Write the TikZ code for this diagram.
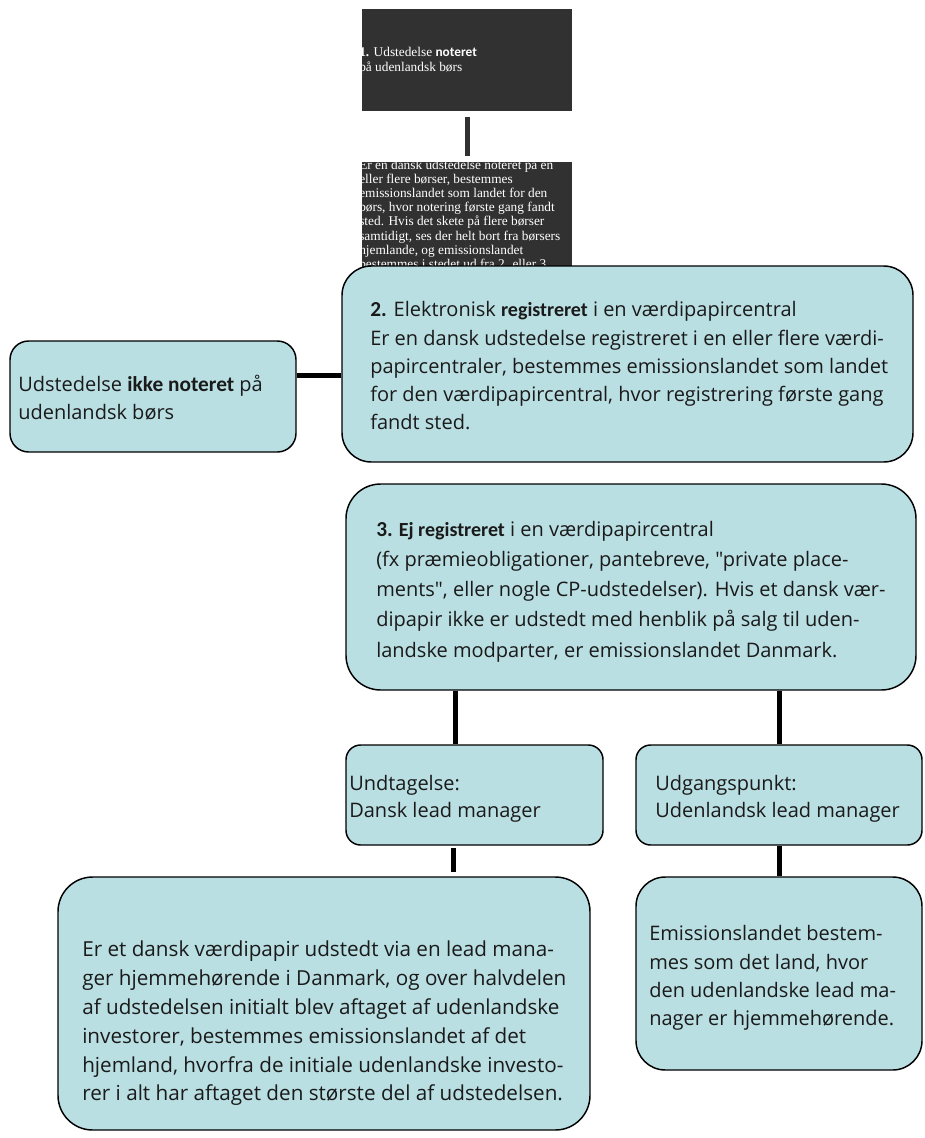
\documentclass[tikz,border=0pt]{standalone}
\usepackage{fontspec}
\setmainfont{Open Sans}[Ligatures=TeXOff]
\newfontfamily\calib{Carlito}
\newfontfamily\tnr{Liberation Serif}
\usetikzlibrary{backgrounds}
\definecolor{boxfill}{HTML}{BADFE3}
\definecolor{darkfill}{HTML}{313131}
\definecolor{ink}{HTML}{1A1A1A}
\tikzset{
  cbox/.style={draw=black, line width=1.1pt, fill=boxfill, inner sep=0pt},
  bsz/.style 2 args={minimum width=#1*0.75pt, minimum height=#2*0.75pt},
  dbox/.style={fill=darkfill, inner sep=0pt, draw=none},
  txt/.style={anchor=west, inner sep=0pt, align=left, text=ink},
  dtxt/.style={anchor=west, inner sep=0pt, align=left, text=white},
  conn/.style={line width=3.75pt, draw=black},
  dconn/.style={line width=3.75pt, draw=darkfill},
}
\begin{document}
\begin{tikzpicture}[x=0.75pt,y=-0.75pt]
\useasboundingbox (0,0) rectangle (924,1138);
% dark boxes
\node[dbox,bsz={210}{102}] (d1) at (467,60) {};
\node[dbox,bsz={210}{106}] (d2) at (467,215) {};
\begin{scope}
  \clip (d1.north west) rectangle (d1.south east);
  \node[dtxt, font=\tnr\fontsize{10pt}{11.25pt}\selectfont] (d1t) at (359,61) {{\bfseries 1.} Udstedelse {\calib\bfseries noteret}\\på udenlandsk børs};
\end{scope}
\begin{scope}
  \clip (d2.north west) rectangle (d2.south east);
  \node[dtxt, font=\tnr\fontsize{10pt}{10.65pt}\selectfont] (d2t) at (359,214) {Er en dansk udstedelse noteret på en\\eller flere børser, bestemmes\\emissionslandet som landet for den\\børs, hvor notering første gang fandt\\sted. Hvis det skete på flere børser\\samtidigt, ses der helt bort fra børsers\\hjemlande, og emissionslandet\\bestemmes i stedet ud fra 2. eller 3.};
\end{scope}
\draw[dconn, shorten <=4.5pt, shorten >=4.5pt] (d1.south) -- (d2.north);
% cyan boxes
\node[cbox,rounded corners=22pt,bsz={571}{196}] (reg) at (627.5,364) {};
\node[cbox,rounded corners=14pt,bsz={286}{111}] (notnot) at (153,396.5) {};
\node[cbox,rounded corners=26pt,bsz={570}{206}] (nreg) at (631,587) {};
\node[cbox,rounded corners=11pt,bsz={257}{100}] (dk) at (474.5,795) {};
\node[cbox,rounded corners=11pt,bsz={286}{100}] (fx) at (779,795) {};
\node[cbox,rounded corners=26pt,bsz={532}{253}] (dkres) at (324,1003.5) {};
\node[cbox,rounded corners=22pt,bsz={286}{193}] (fxres) at (779,973.5) {};
% connectors
\coordinate (hy) at (0,375);
\coordinate (vx1) at (455,0);
\coordinate (vx2) at (453,0);
\begin{pgfonlayer}{background}
\draw[conn] (notnot.east |- hy) -- (reg.west |- hy);
\draw[conn] (nreg.south -| vx1) -- (dk.north -| vx1);
\draw[conn] (nreg.south -| fx.north) -- (fx.north);
\draw[conn, shorten <=2pt, shorten >=3pt] (dk.south -| vx2) -- (dkres.north -| vx2);
\draw[conn] (fx.south) -- (fxres.north);
\end{pgfonlayer}
% texts
\node[txt, font=\fontsize{15pt}{21.2pt}\selectfont] (regt) at (370,366) {{\calib\bfseries\fontsize{16pt}{21.2pt}\selectfont 2.} Elektronisk {\calib\bfseries registreret} i en værdipapircentral\\Er en dansk udstedelse registreret i en eller flere værdi-\\papircentraler, bestemmes emissionslandet som landet\\for den værdipapircentral, hvor registrering første gang\\fandt sted.};
\node[txt, font=\fontsize{15pt}{21pt}\selectfont] (notnott) at (18,397.5) {Udstedelse {\calib\bfseries\fontsize{16pt}{21pt}\selectfont ikke noteret} på\\udenlandsk børs};
\node[txt, font=\fontsize{15pt}{22.7pt}\selectfont] (nregt) at (376,591.5) {{\calib\bfseries{\fontsize{16pt}{22.7pt}\selectfont 3.} Ej registreret} i en værdipapircentral\\(fx præmieobligationer, pantebreve, "private place-\\ments", eller nogle CP-udstedelser). Hvis et dansk vær-\\dipapir ikke er udstedt med henblik på salg til uden-\\landske modparter, er emissionslandet Danmark.};
\node[txt, font=\fontsize{15pt}{20.25pt}\selectfont] (dkt) at (349,798.5) {Undtagelse:\\Dansk lead manager};
\node[txt, font=\fontsize{15pt}{20.25pt}\selectfont] (fxt) at (655,798.5) {Udgangspunkt:\\Udenlandsk lead manager};
\node[txt, font=\fontsize{15.5pt}{21.6pt}\selectfont] (dkrest) at (82,1023.5) {Er et dansk værdipapir udstedt via en lead mana-\\ger hjemmehørende i Danmark, og over halvdelen\\af udstedelsen initialt blev aftaget af udenlandske\\investorer, bestemmes emissionslandet af det\\hjemland, hvorfra de initiale udenlandske investo-\\rer i alt har aftaget den største del af udstedelsen.};
\node[txt, font=\fontsize{15pt}{21.2pt}\selectfont] (fxrest) at (649,978) {Emissionslandet bestem-\\mes som det land, hvor\\den udenlandske lead ma-\\nager er hjemmehørende.};
\end{tikzpicture}
\end{document}
